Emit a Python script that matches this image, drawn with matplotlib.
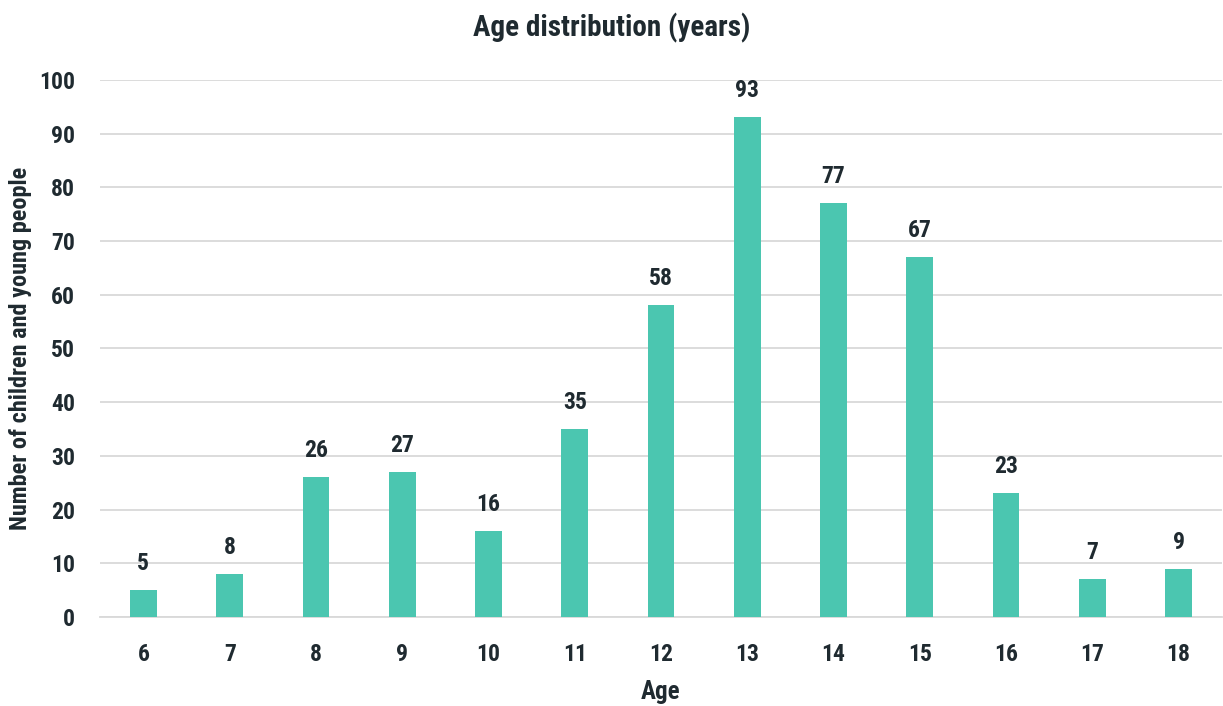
import matplotlib
matplotlib.use("Agg")
import matplotlib.pyplot as plt
import numpy as np

ages = ["6", "7", "8", "9", "10", "11", "12", "13", "14", "15", "16", "17", "18"]
counts = [5, 8, 26, 27, 16, 35, 58, 93, 77, 67, 23, 7, 9]
y_ticks = [0, 10, 20, 30, 40, 50, 60, 70, 80, 90, 100]

plt.rcParams["font.family"] = ["Roboto Condensed", "Roboto", "DejaVu Sans"]
plt.rcParams["font.weight"] = "bold"

text_color = "#1f2a30"
bar_color = "#4bc6b0"

fig = plt.figure(figsize=(12.23, 7.06), dpi=100)
ax = fig.add_axes([0.082, 0.126, 0.917, 0.761])

x = np.arange(len(ages))
ax.bar(x, counts, width=0.31, color=bar_color, zorder=3)

for xi, c in zip(x, counts):
    ax.text(xi, c + 2.8, str(c), ha="center", va="bottom",
            fontsize=17, fontweight="bold", color=text_color)

ax.set_xlim(-0.5, len(ages) - 0.5)
ax.set_ylim(0, 100)
ax.set_xticks(x)
ax.set_xticklabels(ages)
ax.set_yticks(y_ticks)
ax.tick_params(axis="both", length=0, labelsize=17, colors=text_color)
ax.tick_params(axis="x", pad=19)
ax.tick_params(axis="y", pad=18)
for lab in ax.get_xticklabels() + ax.get_yticklabels():
    lab.set_fontweight("bold")

ax.grid(axis="y", color="#d9d9d9", linewidth=1.3, zorder=0)
for s in ["top", "right", "left"]:
    ax.spines[s].set_visible(False)
ax.spines["bottom"].set_color("#d9d9d9")
ax.spines["bottom"].set_linewidth(1.3)

ax.set_xlabel("Age", fontsize=18, fontweight="bold", color=text_color)
ax.xaxis.set_label_coords(0.5, -0.117)
ax.set_ylabel("Number of children and young people", fontsize=17.5,
              fontweight="bold", color=text_color)
ax.yaxis.set_label_coords(-0.061, 0.5)
fig.text(0.5, 0.96, "Age distribution (years)", ha="center", va="center",
         fontsize=21, fontweight="bold", color=text_color)

fig.savefig("out.png", dpi=100)
